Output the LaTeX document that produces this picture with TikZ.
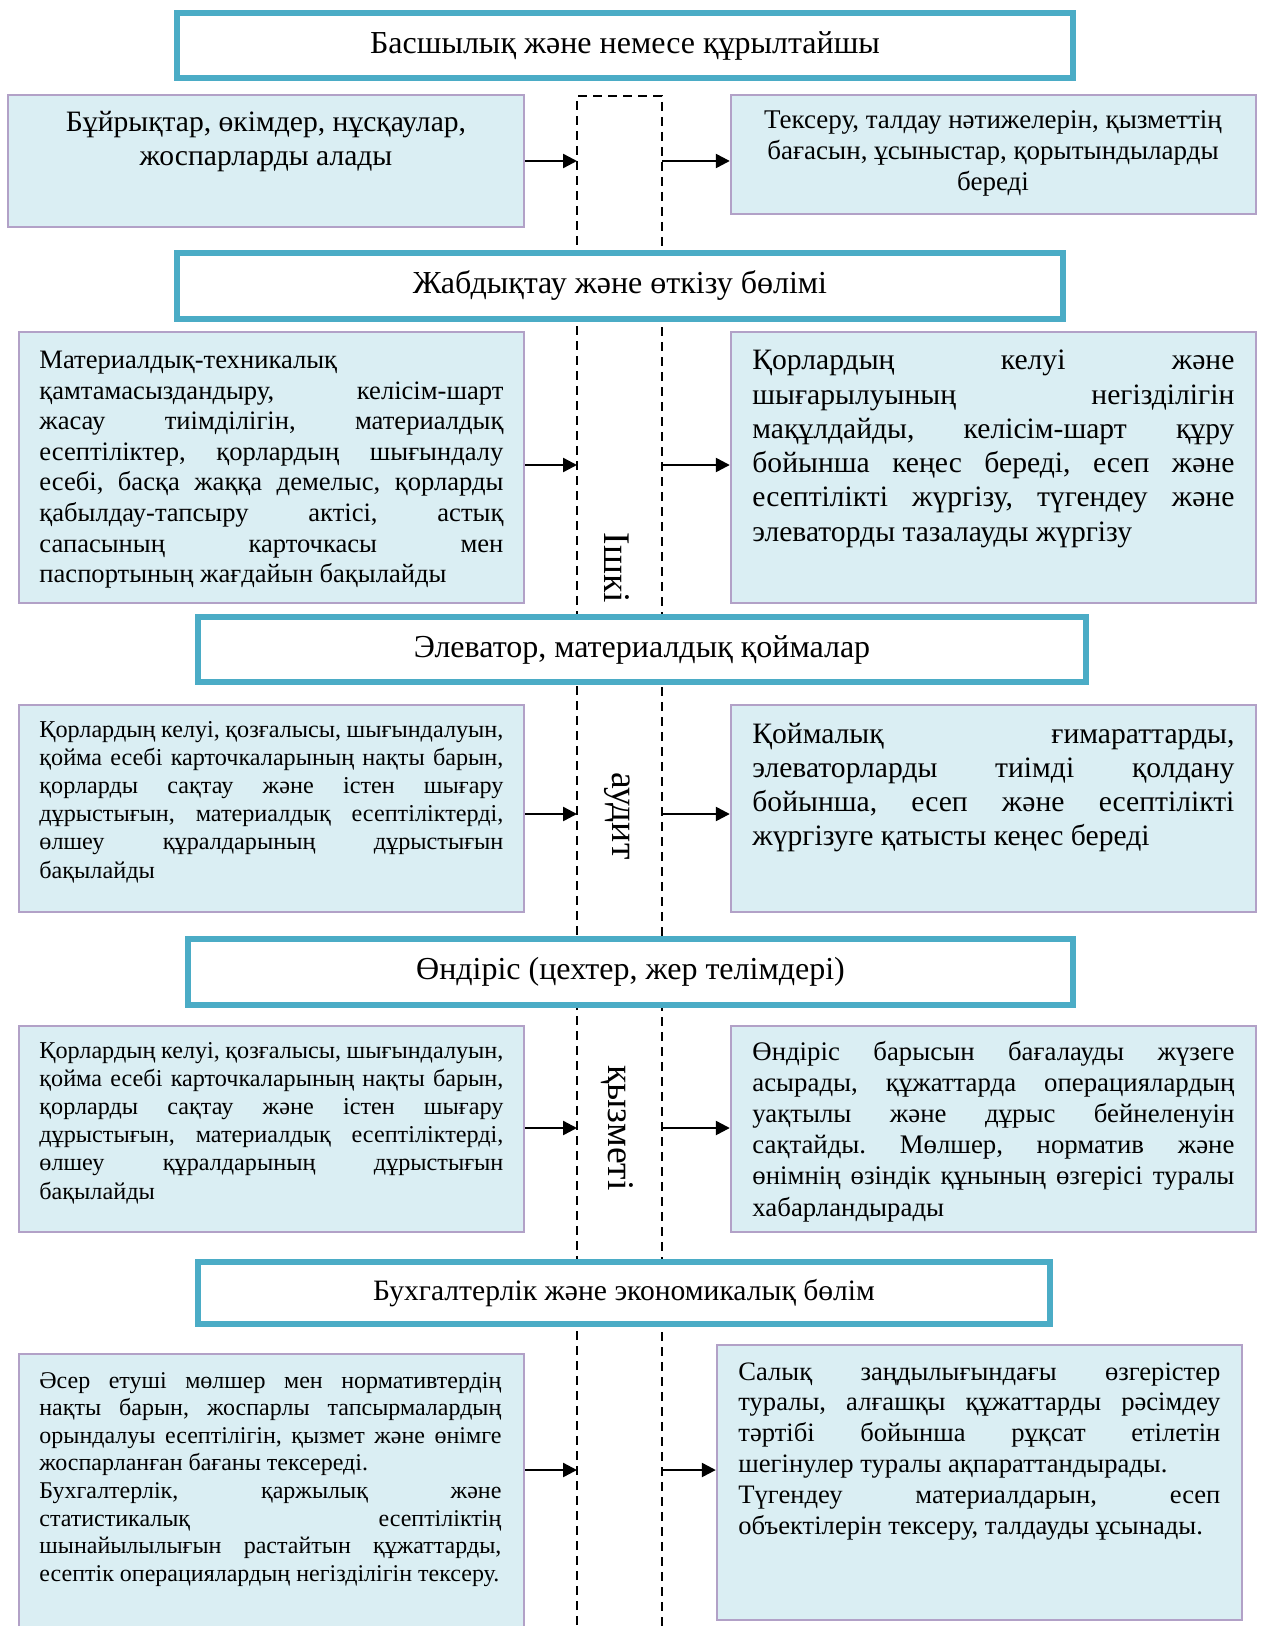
\documentclass[tikz,border=0pt]{standalone}
\usepackage{fontspec}
\setmainfont{Liberation Serif}
\usetikzlibrary{arrows.meta,fit}
\definecolor{headteal}{HTML}{4BACC6}
\definecolor{boxfill}{HTML}{DAEEF3}
\definecolor{boxline}{HTML}{B2A1C7}
\newcommand{\fsz}[2]{\fontsize{#1}{#2}\selectfont}
\frenchspacing
\begin{document}
\begin{tikzpicture}[x=0.5pt, y=-0.5pt,
    head/.style={draw=headteal, line width=3pt, fill=white, inner sep=0pt, font=\fsz{16}{19}},
    infobox/.style={draw=boxline, line width=1.2pt, fill=boxfill, inner sep=0pt},
    info/.style={inner sep=0pt, align=justify, anchor=base west,
        execute at begin node={\tolerance=10000\hyphenpenalty=10000\exhyphenpenalty=10000}},
    audit/.style={line width=1.25pt, dash pattern=on 4.5pt off 3pt},
    arr/.style={line width=1.2pt, -{Triangle[length=7pt,width=7pt]}},
    vlabel/.style={rotate=-90, inner sep=0pt, font=\fsz{18.8}{20}}]
    \useasboundingbox (0,0) rectangle (1263,1626);
    % dashed column of the internal audit
    \coordinate (dbl) at (577,1640);
    \coordinate (dtr) at (662,96);
    \coordinate (dbr) at (662,1640);
    \draw[audit] (dbl) |- (dtr) -- (dbr);
    % headers
    \node[head, minimum width=448pt, minimum height=32.5pt] (h1) at (625,45.5) {Басшылық және немесе құрылтайшы};
    \node[head, minimum width=443pt, minimum height=33pt] (h2) at (620,286) {Жабдықтау және өткізу бөлімі};
    \node[head, minimum width=444pt, minimum height=32.5pt] (h3) at (642,649.5) {Элеватор, материалдық қоймалар};
    \node[head, minimum width=442.5pt, minimum height=33pt] (h4) at (630.5,972) {Өндіріс (цехтер, жер телімдері)};
    \node[head, minimum width=426pt, minimum height=31pt, font=\fsz{14.8}{17}] (h5) at (624,1293) {Бухгалтерлік және экономикалық бөлім};
    % boxes on the left
    \node[infobox, fit={(8,95) (524,227)}] (lb1) {};
    \node[infobox, fit={(19,332) (524,603)}] (lb2) {};
    \node[infobox, fit={(19,705) (524,912)}] (lb3) {};
    \node[infobox, fit={(19,1026) (524,1232)}] (lb4) {};
    \node[infobox, fit={(19,1354) (524,1640)}] (lb5) {};
    % boxes on the right
    \node[infobox, fit={(731,95) (1256,214)}] (rb1) {};
    \node[infobox, fit={(731,332) (1256,603)}] (rb2) {};
    \node[infobox, fit={(731,705) (1256,912)}] (rb3) {};
    \node[infobox, fit={(731,1026) (1256,1232)}] (rb4) {};
    \node[infobox, fit={(717,1345) (1242,1620)}] (rb5) {};
    % texts on the left
    \node[inner sep=0pt, anchor=base, align=center, font=\fsz{14.8}{17}] (lt1) at (266,166)
        {Бұйрықтар, өкімдер, нұсқаулар,\\ жоспарларды алады};
    \node[info, text width=232pt, font=\fsz{13.3}{15.25}] (lt2) at (39,369)
        {Материалдық-техникалық\linebreak қамтамасыздандыру, келісім-шарт\linebreak жасау тиімділігін, материалдық\linebreak есептіліктер, қорлардың шығындалу\linebreak есебі, басқа жаққа демелыс, қорларды\linebreak қабылдау-тапсыру актісі, астық\linebreak сапасының карточкасы мен\linebreak паспортының жағдайын бақылайды};
    \node[info, text width=232pt, font=\fsz{12.1}{14.1}] (lt3) at (39,737)
        {Қорлардың келуі, қозғалысы, шығындалуын,\linebreak қойма есебі карточкаларының нақты барын,\linebreak қорларды сақтау және істен шығару\linebreak дұрыстығын, материалдық есептіліктерді,\linebreak өлшеу құралдарының дұрыстығын\linebreak бақылайды};
    \node[info, text width=232pt, font=\fsz{12.1}{14.1}] (lt4) at (39,1058)
        {Қорлардың келуі, қозғалысы, шығындалуын,\linebreak қойма есебі карточкаларының нақты барын,\linebreak қорларды сақтау және істен шығару\linebreak дұрыстығын, материалдық есептіліктерді,\linebreak өлшеу құралдарының дұрыстығын\linebreak бақылайды};
    \node[info, text width=231pt, font=\fsz{12}{13.8}] (lt5) at (39,1388)
        {Әсер етуші мөлшер мен нормативтердің\linebreak нақты барын, жоспарлы тапсырмалардың\linebreak орындалуы есептілігін, қызмет және өнімге\linebreak жоспарланған бағаны тексереді.\par Бухгалтерлік, қаржылық және\linebreak статистикалық есептіліктің\linebreak шынайылылығын растайтын құжаттарды,\linebreak есептік операциялардың негізділігін тексеру.};
    % texts on the right
    \node[inner sep=0pt, anchor=base, align=center, font=\fsz{13.5}{15.5}] (rt1) at (993,191)
        {Тексеру, талдау нәтижелерін, қызметтің\\ бағасын, ұсыныстар, қорытындыларды\\ береді};
    \node[info, text width=241pt, font=\fsz{14.8}{17.1}] (rt2) at (752,370)
        {Қорлардың келуі және\linebreak шығарылуының негізділігін\linebreak мақұлдайды, келісім-шарт құру\linebreak бойынша кеңес береді, есеп және\linebreak есептілікті жүргізу, түгендеу және\linebreak элеваторды тазалауды жүргізу};
    \node[info, text width=241pt, font=\fsz{14.8}{17.1}] (rt3) at (752,743)
        {Қоймалық ғимараттарды,\linebreak элеваторларды тиімді қолдану\linebreak бойынша, есеп және есептілікті\linebreak жүргізуге қатысты кеңес береді};
    \node[info, text width=241pt, font=\fsz{13.4}{15.6}] (rt4) at (752,1060)
        {Өндіріс барысын бағалауды жүзеге\linebreak асырады, құжаттарда операциялардың\linebreak уақтылы және дұрыс бейнеленуін\linebreak сақтайды. Мөлшер, норматив және\linebreak өнімнің өзіндік құнының өзгерісі туралы\linebreak хабарландырады};
    \node[info, text width=241pt, font=\fsz{13.3}{15.45}] (rt5) at (738,1380)
        {Салық заңдылығындағы өзгерістер\linebreak туралы, алғашқы құжаттарды рәсімдеу\linebreak тәртібі бойынша рұқсат етілетін\linebreak шегінулер туралы ақпараттандырады.\par Түгендеу материалдарын, есеп\linebreak объектілерін тексеру, талдауды ұсынады.};
    % label down the audit column
    \node[vlabel] (v1) at (617,568) {Ішкі};
    \node[vlabel] (v2) at (617,816) {аудит};
    \node[vlabel] (v3) at (617,1128) {қызметі};
    % arrows into and out of the audit column
    \foreach \i/\y in {1/161, 2/465, 3/814, 4/1128, 5/1470} {
        \coordinate (in\i) at (577,\y);
        \coordinate (out\i) at (662,\y);
        \draw[arr] (lb\i.east |- in\i) -- (in\i);
        \draw[arr] (out\i) -- (rb\i.west |- out\i);
    }
\end{tikzpicture}
\end{document}
